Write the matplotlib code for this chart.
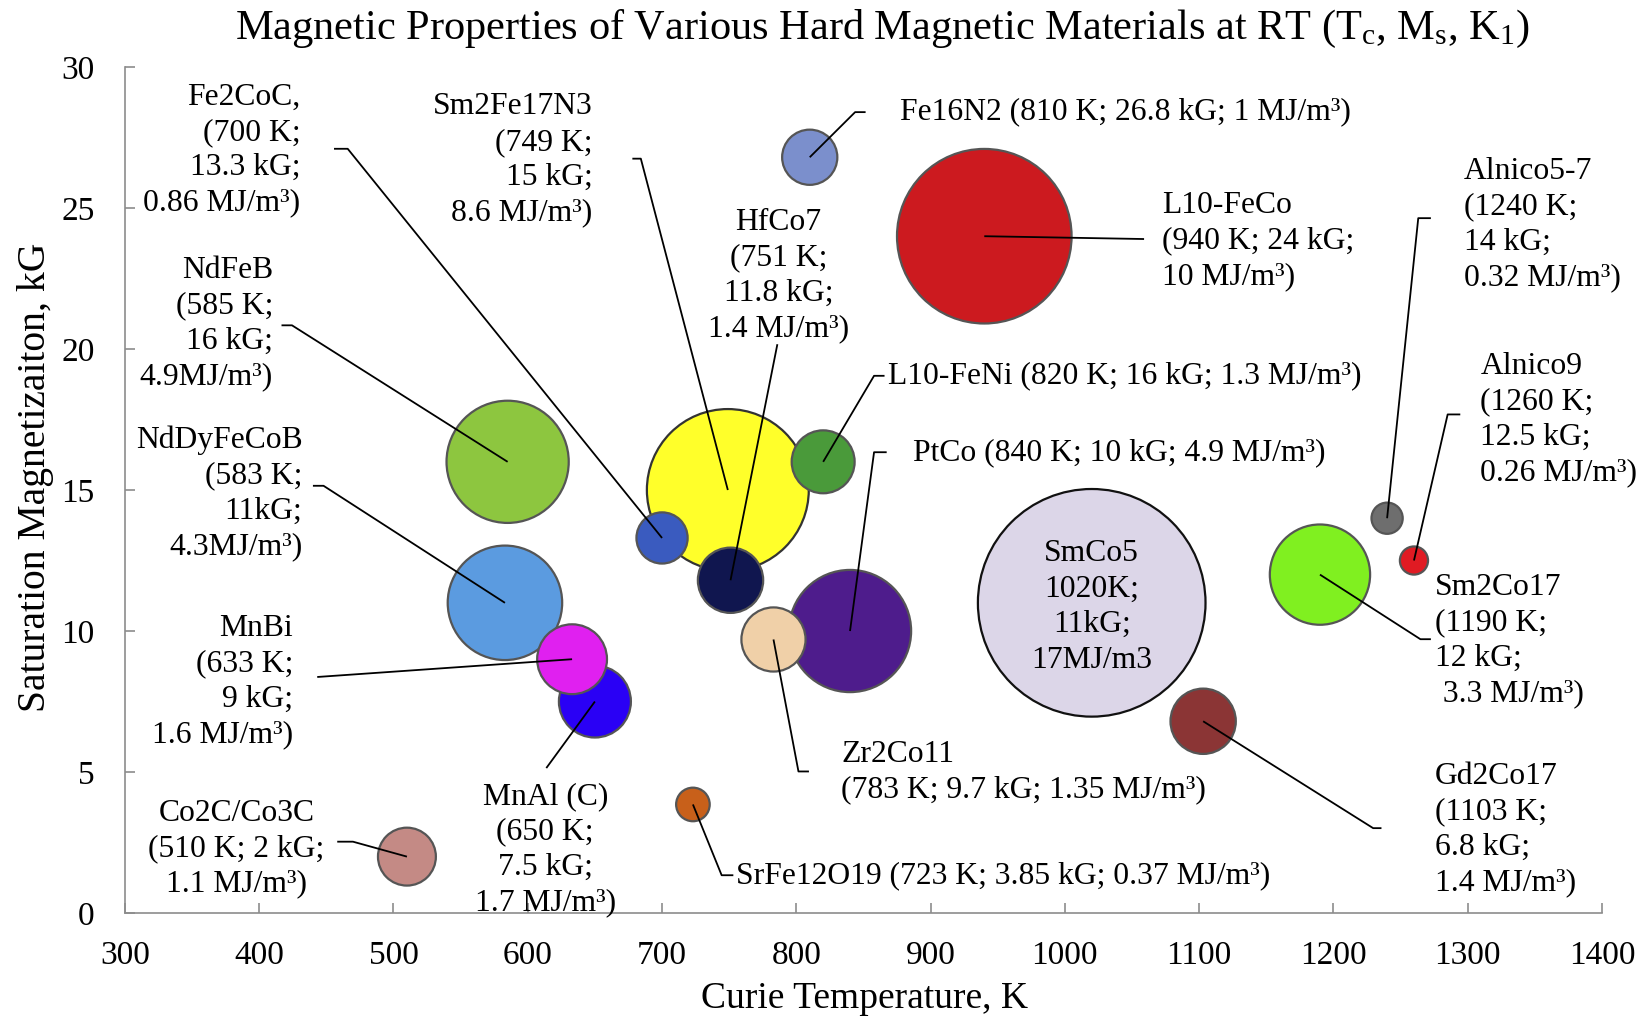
import matplotlib
matplotlib.use("Agg")
import matplotlib.pyplot as plt

plt.rcParams['font.family'] = ['Liberation Serif', 'DejaVu Serif']
plt.rcParams['mathtext.fontset'] = 'custom'
plt.rcParams['mathtext.rm'] = 'Liberation Serif'
plt.rcParams['mathtext.it'] = 'Liberation Serif:italic'

# data: Curie temperature (K), saturation magnetization (kG), anisotropy K1 (MJ/m3)
materials = ['NdDyFeCoB', 'NdFeB', 'MnAl (C)', 'MnBi', 'Co2C/Co3C', 'Sm2Fe17N3', 'Fe2CoC',
             'HfCo7', 'SrFe12O19', 'L10-FeNi', 'PtCo', 'Zr2Co11', 'Fe16N2', 'L10-FeCo',
             'SmCo5', 'Gd2Co17', 'Sm2Co17', 'Alnico5-7', 'Alnico9']
curie_t = [583, 585, 650, 633, 510, 749, 700, 751, 723, 820, 840, 783, 810, 940,
           1020, 1103, 1190, 1240, 1260]
sat_mag = [11, 16, 7.5, 9, 2, 15, 13.3, 11.8, 3.85, 16, 10, 9.7, 26.8, 24,
           11, 6.8, 12, 14, 12.5]
k1 = [4.3, 4.9, 1.7, 1.6, 1.1, 8.6, 0.86, 1.4, 0.37, 1.3, 4.9, 1.35, 1.0, 10,
      17, 1.4, 3.3, 0.32, 0.26]
labels = [
    'NdDyFeCoB\n(583 K;\n11kG;\n4.3MJ/m\u00b3)',
    'NdFeB\n(585 K;\n16 kG;\n4.9MJ/m\u00b3)',
    'MnAl (C)\n(650 K;\n7.5 kG;\n1.7 MJ/m\u00b3)',
    'MnBi\n(633 K;\n9 kG;\n1.6 MJ/m\u00b3)',
    'Co2C/Co3C\n(510 K; 2 kG;\n1.1 MJ/m\u00b3)',
    'Sm2Fe17N3\n(749 K;\n15 kG;\n8.6 MJ/m\u00b3)',
    'Fe2CoC,\n(700 K;\n13.3 kG;\n0.86 MJ/m\u00b3)',
    'HfCo7\n(751 K;\n11.8 kG;\n1.4 MJ/m\u00b3)',
    'SrFe12O19 (723 K; 3.85 kG; 0.37 MJ/m\u00b3)',
    'L10-FeNi (820 K; 16 kG; 1.3 MJ/m\u00b3)',
    'PtCo (840 K; 10 kG; 4.9 MJ/m\u00b3)',
    'Zr2Co11\n(783 K; 9.7 kG; 1.35 MJ/m\u00b3)',
    'Fe16N2 (810 K; 26.8 kG; 1 MJ/m\u00b3)',
    'L10-FeCo\n(940 K; 24 kG;\n10 MJ/m\u00b3)',
    'SmCo5\n1020K;\n11kG;\n17MJ/m3',
    'Gd2Co17\n(1103 K;\n6.8 kG;\n1.4 MJ/m\u00b3)',
    'Sm2Co17\n(1190 K;\n12 kG;\n 3.3 MJ/m\u00b3)',
    'Alnico5-7\n(1240 K;\n14 kG;\n0.32 MJ/m\u00b3)',
    'Alnico9\n(1260 K;\n12.5 kG;\n0.26 MJ/m\u00b3)',
]
colors = ['#5b9be0', '#8dc63f', '#2a00f5', '#e020f0', '#c48a85', '#ffff2a', '#3a5bbf',
          '#10164f', '#c8601a', '#4a9a3a', '#4e1c8c', '#f0d0a8', '#7b8fcc', '#cc1a1f',
          '#dcd6e8', '#8b3535', '#80f020', '#6e6e6e', '#e01b23']
edges = ['#555555'] * len(materials)
edges[5] = '#333333'
edges[14] = '#111111'

# label layout: text anchor (x, y, ha, va) and leader-line start points
label_pos = [
    (432.2, 17.3, 'right', 'top'), (410.3, 23.3, 'right', 'top'),
    (613, 4.65, 'center', 'top'), (425.2, 10.6, 'right', 'top'),
    (383, 4.06, 'center', 'top'), (648.2, 29.1, 'right', 'top'),
    (430.7, 29.45, 'right', 'top'), (786.7, 25.0, 'center', 'top'),
    (755.4, 1.34, 'left', 'center'), (868, 19.05, 'left', 'center'),
    (886.9, 16.34, 'left', 'center'), (833.6, 6.14, 'left', 'top'),
    (877.2, 28.4, 'left', 'center'), (1072.3, 25.6, 'left', 'top'),
    (1020, 10.85, 'center', 'center'), (1275.8, 5.35, 'left', 'top'),
    (1275.8, 12.05, 'left', 'top'), (1296.9, 26.8, 'left', 'top'),
    (1309.4, 19.9, 'left', 'top'),
]
leaders = [
    [(440, 15.15), (447.9, 15.15)], [(416.6, 20.84), (424.4, 20.84)],
    [(613.8, 5.14)], [(443.2, 8.37)],
    [(458.1, 2.53), (469.8, 2.53)], [(677.9, 26.75), (684.2, 26.75)],
    [(455.7, 27.1), (465.9, 27.1)], [(785.9, 20.17)],
    [(753.1, 1.34), (744.4, 1.34)], [(865.7, 19.05), (857.9, 19.05)],
    [(867.3, 16.34), (857.9, 16.34)], [(809.4, 5.02), (801.6, 5.02)],
    [(851.6, 28.4), (843.8, 28.4)], [(1059, 23.9)],
    [], [(1235.8, 3.01), (1229.6, 3.01)],
    [(1272.6, 9.71), (1264.8, 9.71)], [(1272.6, 24.64), (1263.2, 24.64)],
    [(1294.5, 17.68), (1285.1, 17.68)],
]

fig = plt.figure(figsize=(16.42, 10.23), dpi=100)
ax = fig.add_axes([0.0761, 0.1075, 0.8995, 0.827])

# bubble area proportional to K1
ax.scatter(curie_t, sat_mag, s=[v * 1580 for v in k1], c=colors, edgecolors=edges,
           linewidths=1.6, zorder=2)

for i in range(len(materials)):
    pts = leaders[i]
    if pts:
        xs = [p[0] for p in pts] + [curie_t[i]]
        ys = [p[1] for p in pts] + [sat_mag[i]]
        ax.plot(xs, ys, color='black', lw=1.3, zorder=3, solid_capstyle='butt')
    tx, ty, ha, va = label_pos[i]
    ax.text(tx, ty, labels[i], ha=ha, va=va, fontsize=22.8, linespacing=1.29,
            multialignment=ha, zorder=4)

ax.set_xlim(300, 1400)
ax.set_ylim(0, 30)
ax.set_xticks(range(300, 1401, 100))
ax.set_yticks(range(0, 31, 5))
for side in ['top', 'right']:
    ax.spines[side].set_visible(False)
for side in ['left', 'bottom']:
    ax.spines[side].set_color('#8c8c8c')
    ax.spines[side].set_linewidth(1.2)
ax.tick_params(direction='in', length=7, width=1.2, color='#8c8c8c', labelsize=24)
ax.tick_params(axis='x', pad=20)
ax.tick_params(axis='y', pad=22)

ax.set_xlabel('Curie Temperature, K', fontsize=27, va='center')
ax.set_ylabel('Saturation Magnetizaiton, kG', fontsize=28.5, va='center')
ax.xaxis.set_label_coords(0.5007, -0.101)
ax.yaxis.set_label_coords(-0.0603, 0.515)
fig.text(882.5 / 1642, 1 - 29 / 1023,
         r'Magnetic Properties of Various Hard Magnetic Materials at RT '
         r'(T$_\mathrm{c}$, M$_\mathrm{s}$, K$_\mathrm{1}$)',
         ha='center', va='center', fontsize=30.5)

fig.savefig('out.png', dpi=100)
